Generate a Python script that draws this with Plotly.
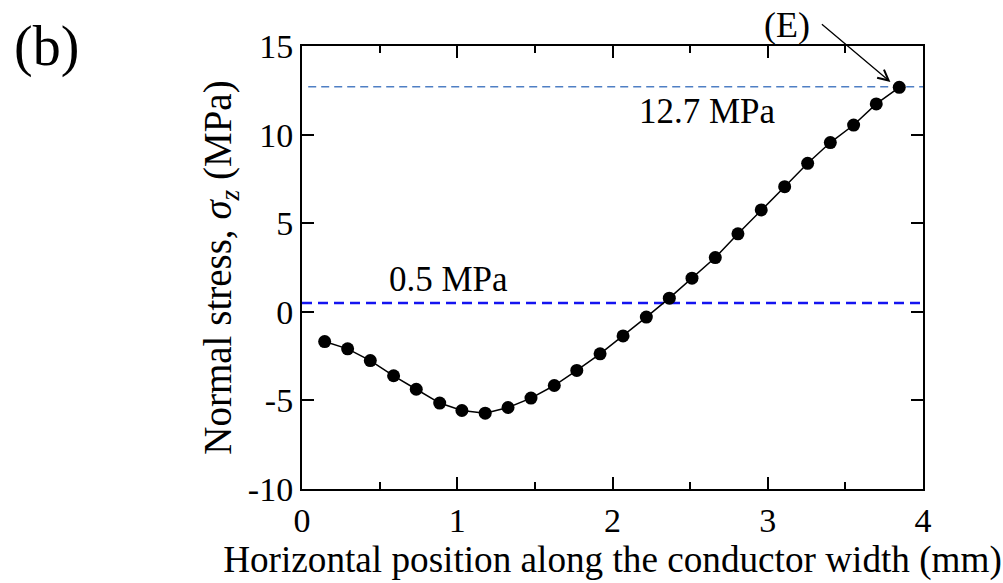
import plotly.graph_objects as go

x_pos = [0.146, 0.294, 0.440, 0.590, 0.736, 0.887, 1.030, 1.180, 1.327, 1.475,
         1.625, 1.770, 1.920, 2.068, 2.218, 2.366, 2.512, 2.662, 2.808, 2.958,
         3.109, 3.257, 3.403, 3.553, 3.699, 3.847]
stress = [-1.68, -2.09, -2.75, -3.61, -4.37, -5.15, -5.57, -5.72, -5.40, -4.87,
          -4.16, -3.31, -2.37, -1.36, -0.30, 0.77, 1.90, 3.06, 4.40, 5.75,
          7.06, 8.38, 9.55, 10.54, 11.73, 12.67]

ref_upper = 12.7
ref_lower = 0.5
x_tick_vals = [0, 1, 2, 3, 4]
x_tick_text = ["0", "1", "2", "3", "4"]
y_tick_vals = [-10, -5, 0, 5, 10, 15]
y_tick_text = ["-10", "-5", "0", "5", "10", "15"]

FONT = "Liberation Serif, Times New Roman, serif"

fig = go.Figure()

fig.add_trace(go.Scatter(x=[0.04, 4], y=[ref_upper, ref_upper], mode="lines",
                         line=dict(color="#4f7fc4", width=1.6, dash="8px,5px"),
                         showlegend=False, hoverinfo="skip"))
fig.add_trace(go.Scatter(x=[0, 4], y=[ref_lower, ref_lower], mode="lines",
                         line=dict(color="#1414f0", width=2.4, dash="10px,6px"),
                         showlegend=False, hoverinfo="skip"))
fig.add_trace(go.Scatter(x=x_pos, y=stress, mode="lines+markers",
                         line=dict(color="black", width=1.5),
                         marker=dict(color="black", size=13),
                         showlegend=False))

fig.add_annotation(x=2.61, y=11.28, text="12.7 MPa", showarrow=False,
                   font=dict(family=FONT, size=35, color="black"))
fig.add_annotation(x=0.943, y=1.80, text="0.5 MPa", showarrow=False,
                   font=dict(family=FONT, size=35, color="black"))
fig.add_annotation(x=3.79, y=12.97, ax=3.339, ay=16.3, axref="x", ayref="y",
                   text="", showarrow=True, arrowhead=5, arrowsize=1.6,
                   arrowwidth=1.3, arrowcolor="black")
fig.add_annotation(xref="paper", yref="paper", x=0.781, y=1.047,
                   text="(E)", showarrow=False, xanchor="center", yanchor="middle",
                   font=dict(family=FONT, size=36, color="black"))
fig.add_annotation(xref="paper", yref="paper", x=-0.412, y=0.998,
                   text="(b)", showarrow=False, xanchor="center", yanchor="middle",
                   font=dict(family=FONT, size=56, color="black"))

fig.update_layout(
    width=1003, height=583,
    margin=dict(l=302, r=80, t=46, b=94),
    paper_bgcolor="white", plot_bgcolor="white",
    font=dict(family=FONT, size=34, color="black"),
    xaxis=dict(range=[0, 4], tickvals=x_tick_vals, ticktext=x_tick_text,
               ticks="inside", ticklen=12,
               tickwidth=1.5, tickcolor="black", showline=True, linecolor="black",
               linewidth=2, mirror="ticks", showgrid=False, zeroline=False,
               minor=dict(dtick=0.5, ticks="inside", ticklen=7, tickwidth=1.5,
                          tickcolor="black", showgrid=False),
               title=dict(text="Horizontal position along the conductor width (mm)",
                          font=dict(size=37.2), standoff=1),
               tickfont=dict(size=34)),
    yaxis=dict(range=[-10, 15], tickvals=y_tick_vals, ticktext=y_tick_text,
               ticks="inside", ticklen=12,
               tickwidth=1.5, tickcolor="black", showline=True, linecolor="black",
               linewidth=2, mirror="ticks", showgrid=False, zeroline=False,
               title=dict(text="Normal stress, <i>σ</i><sub><i>z</i></sub> (MPa)",
                          font=dict(size=39), standoff=4),
               tickfont=dict(size=34)),
)

fig.write_html("out.html")
